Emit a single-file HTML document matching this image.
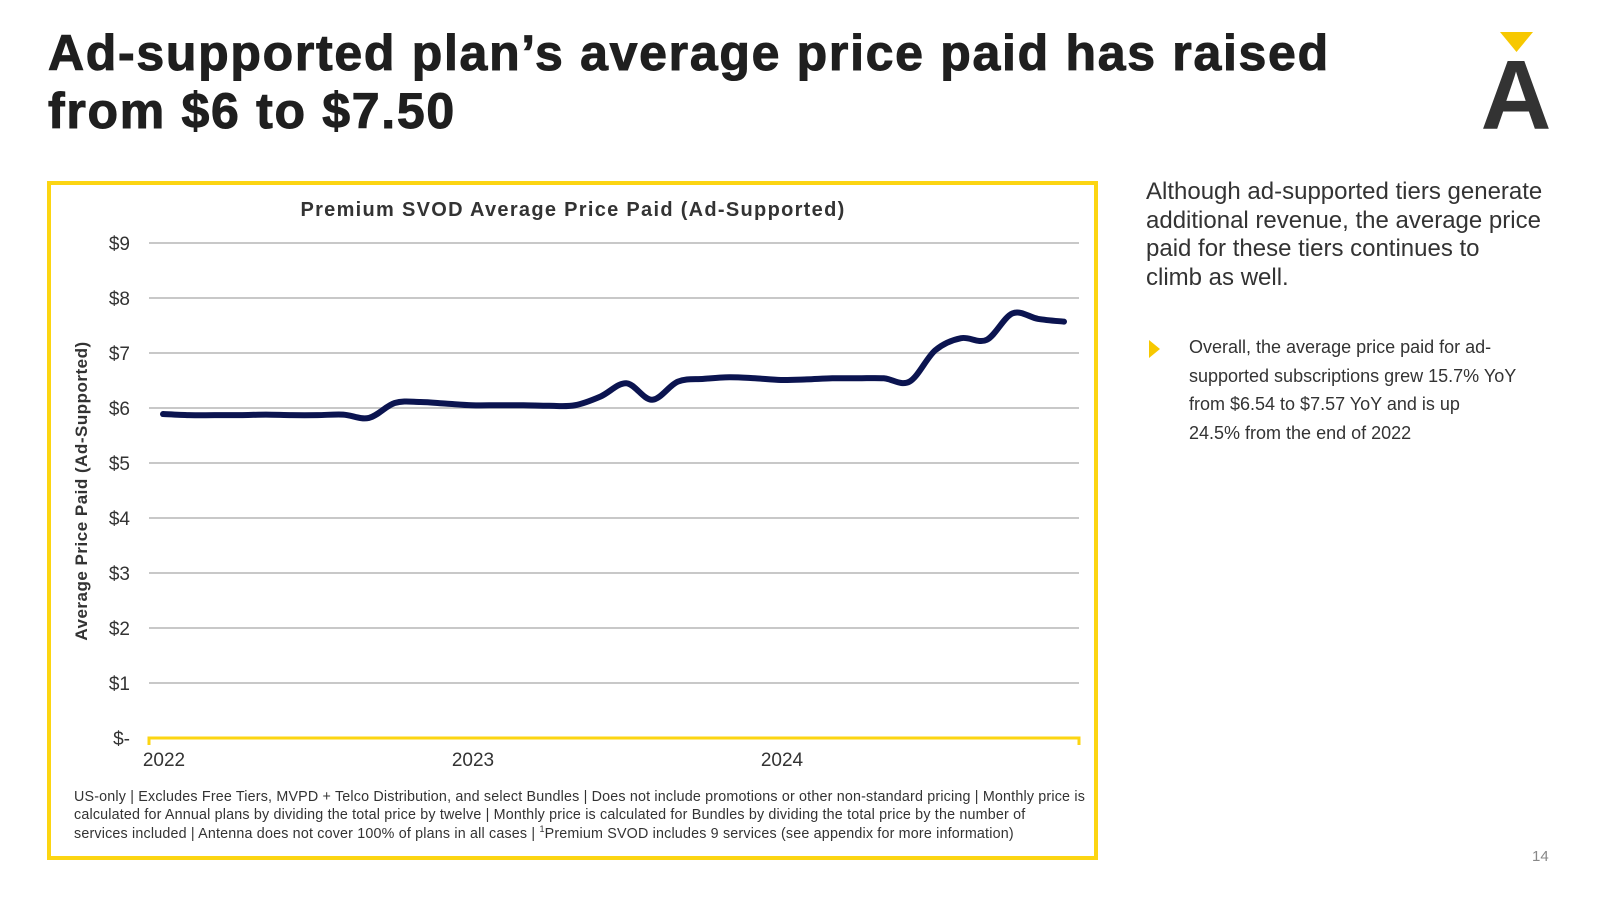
<!DOCTYPE html>
<html><head><meta charset="utf-8"><style>
body{margin:0;width:1600px;height:900px;background:#fff;position:relative;overflow:hidden;font-family:"Liberation Sans",sans-serif;}
.abs{position:absolute;}
</style></head><body>
<div class="abs" style="left:48px;top:24px;font-size:50px;font-weight:bold;line-height:58px;color:#1f1f1f;letter-spacing:1.7px;-webkit-text-stroke:1px #1f1f1f;">Ad-supported plan’s average price paid has raised<br>from $6 to $7.50</div>
<div class="abs" style="left:1480px;top:28px;width:75px;height:110px;">
<svg width="75" height="110"><polygon points="20,4 53,4 36.5,24" fill="#f7c800"/><text x="36" y="101" text-anchor="middle" font-family="Liberation Sans" font-weight="bold" font-size="98" fill="#333">A</text></svg></div>
<div class="abs" style="left:1146px;top:178px;width:440px;font-size:24px;line-height:28.7px;color:#333;white-space:nowrap;">Although ad-supported tiers generate<br>additional revenue, the average price<br>paid for these tiers continues to<br>climb as well.</div>
<div class="abs" style="left:1149px;top:340px;width:0;height:0;border-top:9px solid transparent;border-bottom:9px solid transparent;border-left:11px solid #f7c800;"></div>
<div class="abs" style="left:1189px;top:333px;width:400px;font-size:18px;line-height:28.7px;color:#333;white-space:nowrap;">Overall, the average price paid for ad-<br>supported subscriptions grew 15.7% YoY<br>from $6.54 to $7.57 YoY and is up<br>24.5% from the end of 2022</div>
<div class="abs" style="left:1532px;top:848px;font-size:15px;color:#888;">14</div>
<div class="abs" style="left:47px;top:181px;width:1043px;height:671px;border:4px solid #fcd512;"></div>
<svg class="abs" style="left:0;top:0" width="1100" height="900" id="chart"></svg>
<div class="abs" style="left:74px;top:788px;width:1040px;font-size:14.3px;line-height:18.4px;letter-spacing:0.18px;color:#333;white-space:nowrap;">US-only | Excludes Free Tiers, MVPD + Telco Distribution, and select Bundles | Does not include promotions or other non-standard pricing | Monthly price is<br>calculated for Annual plans by dividing the total price by twelve | Monthly price is calculated for Bundles by dividing the total price by the number of<br>services included | Antenna does not cover 100% of plans in all cases | <sup style="font-size:9px;line-height:0;">1</sup>Premium SVOD includes 9 services (see appendix for more information)</div>
<script>
const yTicks=[0,1,2,3,4,5,6,7,8,9];
const yLabels=["$-","$1","$2","$3","$4","$5","$6","$7","$8","$9"];
const years=["2022","2023","2024"];
const prices=[5.89,5.87,5.87,5.87,5.88,5.87,5.87,5.88,5.82,6.09,6.11,6.08,6.05,6.05,6.05,6.04,6.05,6.21,6.45,6.15,6.48,6.53,6.56,6.54,6.51,6.52,6.54,6.54,6.54,6.48,7.05,7.27,7.24,7.72,7.62,7.57];
const NS="http://www.w3.org/2000/svg";
const svg=document.getElementById('chart');
const x0=149,x1=1079,y0=738,pxPerDollar=55;
const y=v=>y0-v*pxPerDollar;
const xm=i=>163+i*(1064-163)/(prices.length-1);
const xYear=i=>164+i*309;
function mk(t,a){const e=document.createElementNS(NS,t);for(const k in a)e.setAttribute(k,a[k]);svg.appendChild(e);return e;}
let e=mk('text',{x:573,y:216,'text-anchor':'middle','font-size':20,'font-weight':'bold',fill:'#333','letter-spacing':'1.3'});


e.textContent='Premium SVOD Average Price Paid (Ad-Supported)';
yTicks.forEach((v,i)=>{
 if(v>0){const g=mk('line',{x1:x0,x2:x1,y1:y(v),y2:y(v),stroke:'#c8c8c8','stroke-width':2});
 
 }
 const t=mk('text',{x:130,y:y(v)+7,'text-anchor':'end','font-size':19,fill:'#333'});
 
 
 t.textContent=yLabels[i];
});
const ax=mk('path',{d:`M${x0} ${y0+7}V${y0}H${x1}V${y0+7}`,stroke:'#fcd512','stroke-width':3,fill:'none'});


years.forEach((yr,i)=>{const t=mk('text',{x:xYear(i),y:766,'text-anchor':'middle','font-size':19,fill:'#333'});
 
 
 t.textContent=yr;});
const yt=mk('text',{x:0,y:0,transform:'translate(87,491) rotate(-90)','text-anchor':'middle','font-size':17,'font-weight':'bold',fill:'#333','letter-spacing':'0.5'});


yt.textContent='Average Price Paid (Ad-Supported)';
const P=prices.map((v,i)=>[xm(i),y(v)]);
let d=`M${P[0][0]} ${P[0][1]}`;
for(let i=0;i<P.length-1;i++){const p0=P[Math.max(0,i-1)],p1=P[i],p2=P[i+1],p3=P[Math.min(P.length-1,i+2)];
 d+=`C${p1[0]+(p2[0]-p0[0])/6} ${p1[1]+(p2[1]-p0[1])/6} ${p2[0]-(p3[0]-p1[0])/6} ${p2[1]-(p3[1]-p1[1])/6} ${p2[0]} ${p2[1]}`;}
const ln=mk('path',{d,stroke:'#0b1450','stroke-width':6,fill:'none','stroke-linecap':'round','stroke-linejoin':'round'});


</script>
</body></html>
